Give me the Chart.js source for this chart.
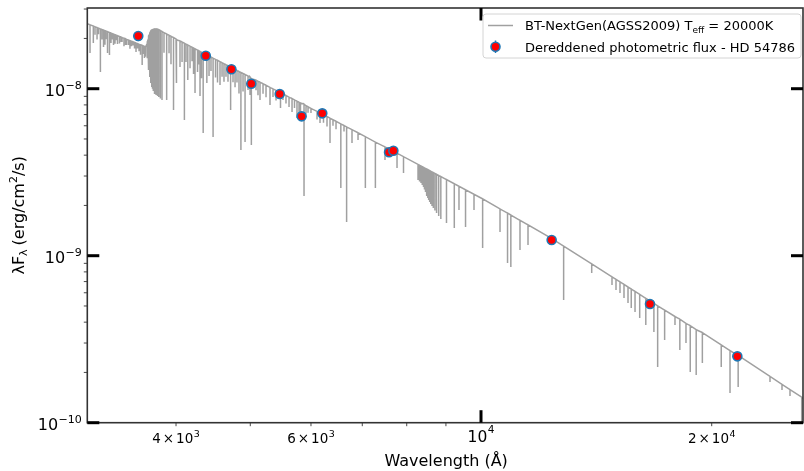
<!DOCTYPE html>
<html>
<head>
<meta charset="utf-8">
<script src="https://cdn.jsdelivr.net/npm/chart.js@4.4.1/dist/chart.umd.min.js"></script>
<style>
  html, body { margin: 0; padding: 0; background: #fff; }
  #wrap { width: 804px; height: 471px; }
</style>
</head>
<body>
<div id="wrap"><canvas id="sed" width="804" height="471"></canvas></div>
<script>
// axis limits
const X_MIN = 3064, X_MAX = 26312;
const Y_MIN = 1e-10, Y_MAX = 3.043e-8;

// model continuum nodes (Angstrom, erg/cm2/s)
const contWave = [3040, 3652, 4364, 6202, 7631, 10000, 12342, 16615, 21578, 26550];
const contFlux = [2.488e-8, 1.777e-8, 1.614e-8, 7.055e-9, 4.295e-9, 2.216e-9, 1.276e-9, 5.355e-10, 2.543e-10, 1.367e-10];

// strong absorption lines: wavelength, flux at the line edge, flux at the line bottom
const lineWave = [
  3089, 3120, 3187, 3217, 3256, 3275, 3315, 3355, 3401, 3448, 3515, 3613, 3638,
  3666, 3671, 3677, 3682, 3688, 3693, 3699, 3704, 3710, 3715, 3721, 3727, 3733, 3738, 3744, 3749, 3755, 3763, 3771, 3784, 3798, 3816, 3835,
  3889, 3970, 4009, 4102, 4144, 4235, 4299, 4340, 4388, 4471, 4565, 4713, 4861, 4922, 5016,
  5148, 5305, 5475, 5668, 5753, 5876, 6000, 6165, 6353, 6563, 6678, 6787, 6911, 7065, 7281,
  7494, 7770, 7923, 8276, 8314, 8351, 8382, 8413, 8438, 8464, 8483, 8502, 8523, 8545, 8571, 8598, 8631, 8665, 8707, 8750, 8806, 8863, 9015, 9229,
  9360, 9546, 9792, 10049, 10588, 10830, 10938, 11243, 11517, 12818, 13946, 14823, 15002,
  15183, 15367, 15553, 15705, 15885, 16109, 16407, 16811, 17002, 17362, 17911, 18174, 18513,
  18751, 19089, 19446, 20581, 21131, 21655, 23828, 24703, 25304, 26209
];
const lineTop = [
  2.413e-8, 2.371e-8, 2.278e-8, 2.243e-8, 2.194e-8, 2.170e-8, 2.123e-8, 2.077e-8, 2.026e-8, 1.971e-8, 1.909e-8, 1.817e-8, 1.792e-8,
  1.852e-8, 1.905e-8, 1.957e-8, 2.010e-8, 2.068e-8, 2.110e-8, 2.155e-8, 2.190e-8, 2.216e-8, 2.230e-8, 2.246e-8, 2.255e-8, 2.262e-8, 2.270e-8, 2.278e-8, 2.278e-8, 2.278e-8, 2.278e-8, 2.278e-8, 2.270e-8, 2.253e-8, 2.230e-8, 2.200e-8,
  2.125e-8, 2.023e-8, 1.963e-8, 1.870e-8, 1.827e-8, 1.733e-8, 1.672e-8, 1.634e-8, 1.594e-8, 1.523e-8, 1.451e-8, 1.343e-8, 1.252e-8, 1.216e-8, 1.146e-8,
  1.094e-8, 1.018e-8, 9.451e-9, 8.723e-9, 8.417e-9, 8.087e-9, 7.622e-9, 7.153e-9, 6.658e-9, 6.155e-9, 5.905e-9, 5.682e-9, 5.444e-9, 5.159e-9, 4.789e-9,
  4.482e-9, 4.109e-9, 3.916e-9, 3.521e-9, 3.482e-9, 3.444e-9, 3.413e-9, 3.383e-9, 3.357e-9, 3.332e-9, 3.316e-9, 3.300e-9, 3.280e-9, 3.260e-9, 3.233e-9, 3.206e-9, 3.175e-9, 3.145e-9, 3.108e-9, 3.072e-9, 3.024e-9, 2.976e-9, 2.855e-9, 2.695e-9,
  2.603e-9, 2.484e-9, 2.332e-9, 2.188e-9, 1.906e-9, 1.799e-9, 1.753e-9, 1.629e-9, 1.529e-9, 1.141e-9, 8.931e-10, 7.475e-10, 7.222e-10,
  6.968e-10, 6.732e-10, 6.495e-10, 6.318e-10, 6.113e-10, 5.865e-10, 5.558e-10, 5.181e-10, 5.012e-10, 4.723e-10, 4.324e-10, 4.172e-10, 3.932e-10,
  3.815e-10, 3.605e-10, 3.464e-10, 2.927e-10, 2.699e-10, 2.529e-10, 1.891e-10, 1.698e-10, 1.578e-10, 1.421e-10
];
const lineBottom = [
  1.636e-8, 1.878e-8, 1.259e-8, 1.777e-8, 1.636e-8, 1.592e-8, 1.827e-8, 1.852e-8, 1.904e-8, 1.827e-8, 1.814e-8, 1.387e-8, 1.527e-8,
  1.592e-8, 1.520e-8, 1.445e-8, 1.370e-8, 1.294e-8, 1.230e-8, 1.175e-8, 1.130e-8, 1.082e-8, 1.050e-8, 1.024e-8, 1.000e-8, 9.82e-9, 9.68e-9, 9.54e-9, 9.42e-9, 9.30e-9, 9.23e-9, 9.17e-9, 9.05e-9, 8.92e-9, 8.75e-9, 8.56e-9,
  8.557e-9, 7.455e-9, 1.082e-8, 6.495e-9, 1.127e-8, 9.425e-9, 9.043e-9, 5.429e-9, 1.082e-8, 5.138e-9, 1.052e-8, 7.455e-9, 4.295e-9, 4.795e-9, 4.601e-9,
  8.557e-9, 7.987e-9, 7.664e-9, 7.253e-9, 6.676e-9, 2.278e-9, 7.153e-9, 6.232e-9, 4.730e-9, 2.543e-9, 1.591e-9, 4.730e-9, 4.930e-9, 2.543e-9, 2.543e-9,
  3.741e-9, 3.351e-9, 3.128e-9, 2.840e-9, 2.780e-9, 2.725e-9, 2.650e-9, 2.579e-9, 2.490e-9, 2.407e-9, 2.340e-9, 2.278e-9, 2.215e-9, 2.155e-9, 2.095e-9, 2.040e-9, 1.985e-9, 1.930e-9, 1.865e-9, 1.802e-9, 1.730e-9, 1.659e-9, 1.570e-9, 1.465e-9,
  1.878e-9, 1.485e-9, 1.878e-9, 1.112e-9, 1.386e-9, 9.042e-10, 8.557e-10, 1.082e-9, 1.159e-9, 5.429e-10, 7.878e-10, 6.676e-10, 6.232e-10,
  5.979e-10, 5.581e-10, 5.209e-10, 4.862e-10, 4.601e-10, 4.236e-10, 3.846e-10, 3.492e-10, 2.155e-10, 3.128e-10, 3.846e-10, 2.725e-10, 3.001e-10,
  2.012e-10, 1.930e-10, 2.278e-10, 2.155e-10, 1.506e-10, 1.636e-10, 1.753e-10, 1.570e-10, 1.445e-10, 9.5e-11
];

// weak metal / helium lines forming the dense forest in the blue
const weakWave = [
  3136, 3155, 3169, 3202, 3231, 3241, 3290, 3300, 3330, 3340, 3375, 3391, 3421, 3437, 3468, 3483, 3499, 3531, 3547, 3563, 3579, 3595, 3625, 3647,
  3858, 3917, 3940, 4000, 4048, 4073, 4122, 4172, 4197, 4216, 4267, 4280, 4318, 4417, 4443, 4504, 4531, 4593, 4620, 4648, 4676,
  4747, 4776, 4804, 4833, 4892, 4966, 4996, 5087, 5117, 5195, 5242, 5353, 5402, 5516, 5566, 5617, 5710, 5788, 5814, 5911, 5947,
  6110, 6230, 6296, 6410, 6469, 6626
];
const weakTop = [
  2.348e-8, 2.323e-8, 2.304e-8, 2.261e-8, 2.224e-8, 2.211e-8, 2.152e-8, 2.140e-8, 2.105e-8, 2.094e-8, 2.054e-8, 2.037e-8, 2.004e-8, 1.988e-8, 1.956e-8, 1.939e-8, 1.924e-8, 1.892e-8, 1.877e-8, 1.862e-8, 1.846e-8, 1.831e-8, 1.804e-8, 1.784e-8,
  2.166e-8, 2.090e-8, 2.060e-8, 1.987e-8, 1.931e-8, 1.903e-8, 1.849e-8, 1.797e-8, 1.772e-8, 1.753e-8, 1.703e-8, 1.691e-8, 1.655e-8, 1.569e-8, 1.547e-8, 1.498e-8, 1.478e-8, 1.431e-8, 1.411e-8, 1.392e-8, 1.372e-8,
  1.324e-8, 1.306e-8, 1.287e-8, 1.269e-8, 1.234e-8, 1.191e-8, 1.174e-8, 1.125e-8, 1.109e-8, 1.071e-8, 1.048e-8, 9.974e-9, 9.764e-9, 9.290e-9, 9.096e-9, 8.906e-9, 8.567e-9, 8.299e-9, 8.212e-9, 7.900e-9, 7.789e-9,
  7.310e-9, 6.980e-9, 6.806e-9, 6.518e-9, 6.380e-9, 6.022e-9
];
const weakBottom = [
  2.103e-8, 1.969e-8, 2.121e-8, 1.969e-8, 1.833e-8, 1.981e-8, 1.875e-8, 1.970e-8, 1.860e-8, 1.954e-8, 1.865e-8, 1.902e-8, 1.795e-8, 1.830e-8, 1.825e-8, 1.737e-8, 1.796e-8, 1.742e-8, 1.658e-8, 1.738e-8, 1.676e-8, 1.595e-8, 1.615e-8, 1.554e-8,
  1.644e-8, 1.630e-8, 1.400e-8, 1.467e-8, 1.349e-8, 1.445e-8, 1.443e-8, 1.327e-8, 1.460e-8, 1.225e-8, 1.257e-8, 1.394e-8, 1.156e-8, 1.191e-8, 1.275e-8, 1.169e-8, 1.091e-8, 1.180e-8, 1.101e-8, 1.179e-8, 1.100e-8,
  1.092e-8, 1.019e-8, 1.091e-8, 9.371e-9, 9.625e-9, 9.817e-9, 9.159e-9, 9.802e-9, 9.145e-9, 9.327e-9, 8.883e-9, 8.932e-9, 8.507e-9, 8.553e-9, 8.146e-9, 7.759e-9, 7.672e-9, 7.034e-9, 6.770e-9, 7.075e-9, 7.171e-9,
  6.546e-9, 6.251e-9, 5.929e-9, 6.001e-9, 5.713e-9, 5.544e-9
];

// dereddened photometry
const photWave = [3571, 4374, 4724, 5015, 5462, 5834, 6207, 7586, 7685, 12365, 16615, 21600];
const photFlux = [2.067e-8, 1.576e-8, 1.307e-8, 1.071e-8, 9.30e-9, 6.83e-9, 7.12e-9, 4.16e-9, 4.25e-9, 1.242e-9, 5.14e-10, 2.497e-10];
const photErr  = [1.4e-9, 2.5e-10, 2e-10, 1.6e-10, 1.4e-10, 1e-10, 1e-10, 6e-11, 6e-11, 1.8e-11, 8e-12, 4e-12];

// ticks
const xMinorTicks = [4000, 5000, 6000, 7000, 8000, 9000, 20000];
const xMajorTicks = [10000];
const xLabelVals = [4000, 6000, 10000, 20000];
const xLabelMant = ['4', '6', '', '2'];
const xLabelExp  = ['3', '3', '4', '4'];
const yMajorTicks = [1e-10, 1e-9, 1e-8];
const yMinorTicks = [2e-10, 3e-10, 4e-10, 5e-10, 6e-10, 7e-10, 8e-10, 9e-10,
                     2e-9, 3e-9, 4e-9, 5e-9, 6e-9, 7e-9, 8e-9, 9e-9, 2e-8, 3e-8];
const yLabelExp = ['\u221210', '\u22129', '\u22128'];

const MODEL_COLOR = '#a0a0a0';
const PHOT_FILL = '#ff0000';
const PHOT_EDGE = '#1f77b4';
const FONT = '"DejaVu Sans", sans-serif';

// model spectrum: continuum nodes plus a down-and-up spike for every line
const groups = [];
contWave.forEach(function(w, i) { groups.push({ w: w, pts: [{ x: w, y: contFlux[i] }] }); });
function addLines(waves, tops, bottoms) {
  waves.forEach(function(w, i) {
    groups.push({ w: w, pts: [{ x: w, y: tops[i] }, { x: w, y: bottoms[i] }, { x: w, y: tops[i] }] });
  });
}
addLines(lineWave, lineTop, lineBottom);
addLines(weakWave, weakTop, weakBottom);
groups.sort(function(a, b) { return a.w - b.w; });
const spectrum = [];
groups.forEach(function(g) { g.pts.forEach(function(p) { spectrum.push(p); }); });

const photPoints = photWave.map(function(w, i) { return { x: w, y: photFlux[i] }; });

// draw a run of text pieces (base, superscript, subscript)
function pieceWidth(ctx, segs) {
  let w = 0;
  segs.forEach(function(s) {
    ctx.font = s.size + 'px ' + FONT;
    w += ctx.measureText(s.t).width + (s.gap || 0);
  });
  return w;
}
function drawPieces(ctx, segs, x, y) {
  segs.forEach(function(s) {
    ctx.font = s.size + 'px ' + FONT;
    ctx.fillText(s.t, x, y + (s.dy || 0));
    x += ctx.measureText(s.t).width + (s.gap || 0);
  });
}

const decor = {
  id: 'decor',
  beforeDatasetDraw(chart, args) {
    if (args.index !== 0) return;
    const ctx = chart.ctx, xs = chart.scales.x, ys = chart.scales.y;
    ctx.save();
    ctx.strokeStyle = PHOT_EDGE;
    ctx.lineWidth = 1.5;
    photWave.forEach(function(w, i) {
      const px = xs.getPixelForValue(w);
      ctx.beginPath();
      ctx.moveTo(px, ys.getPixelForValue(photFlux[i] + photErr[i]));
      ctx.lineTo(px, ys.getPixelForValue(photFlux[i] - photErr[i]));
      ctx.stroke();
    });
    ctx.restore();
  },
  afterDraw(chart) {
    const ctx = chart.ctx, a = chart.chartArea, xs = chart.scales.x, ys = chart.scales.y;
    ctx.save();

    // frame
    ctx.strokeStyle = '#333';
    ctx.lineWidth = 1.6;
    ctx.strokeRect(a.left, a.top, a.right - a.left, a.bottom - a.top);

    // minor ticks, outward
    ctx.lineWidth = 0.9;
    ctx.strokeStyle = '#333';
    yMinorTicks.forEach(function(v) {
      const py = ys.getPixelForValue(v);
      ctx.beginPath(); ctx.moveTo(a.left, py); ctx.lineTo(a.left - 3.5, py); ctx.stroke();
    });
    xMinorTicks.forEach(function(v) {
      const px = xs.getPixelForValue(v);
      ctx.beginPath(); ctx.moveTo(px, a.bottom); ctx.lineTo(px, a.bottom + 3.5); ctx.stroke();
    });

    // major ticks, inward and heavy
    ctx.lineWidth = 3;
    ctx.strokeStyle = '#000';
    yMajorTicks.forEach(function(v) {
      const py = ys.getPixelForValue(v);
      ctx.beginPath(); ctx.moveTo(a.left, py); ctx.lineTo(a.left + 12, py); ctx.stroke();
      ctx.beginPath(); ctx.moveTo(a.right, py); ctx.lineTo(a.right - 12, py); ctx.stroke();
    });
    xMajorTicks.forEach(function(v) {
      const px = xs.getPixelForValue(v);
      ctx.beginPath(); ctx.moveTo(px, a.bottom); ctx.lineTo(px, a.bottom - 12.5); ctx.stroke();
      ctx.beginPath(); ctx.moveTo(px, a.top); ctx.lineTo(px, a.top + 12.5); ctx.stroke();
    });

    // tick labels
    ctx.fillStyle = '#000';
    ctx.textBaseline = 'alphabetic';
    ctx.textAlign = 'left';
    xLabelVals.forEach(function(v, i) {
      const px = xs.getPixelForValue(v);
      let segs, base;
      if (xLabelMant[i]) {
        segs = [
          { t: xLabelMant[i], size: 13.5, gap: 2 },
          { t: '\u00d7', size: 13.5, gap: 2 },
          { t: '10', size: 13.5, gap: 0.5 },
          { t: xLabelExp[i], size: 9.5, dy: -6 }
        ];
        base = a.bottom + 20.6;
      } else {
        segs = [
          { t: '10', size: 15.5, gap: 0.5 },
          { t: xLabelExp[i], size: 10.5, dy: -8.4 }
        ];
        base = a.bottom + 19;
      }
      drawPieces(ctx, segs, px - pieceWidth(ctx, segs) / 2, base);
    });
    yMajorTicks.forEach(function(v, i) {
      const py = ys.getPixelForValue(v);
      const segs = [
        { t: '10', size: 16, gap: 0.5 },
        { t: yLabelExp[i], size: 11, dy: -6.5 }
      ];
      drawPieces(ctx, segs, a.left - 5.5 - pieceWidth(ctx, segs), py + 7);
    });

    // axis titles
    ctx.font = '16px ' + FONT;
    ctx.textAlign = 'center';
    ctx.fillText('Wavelength (\u00c5)', (a.left + a.right) / 2 + 1, 466);

    const ySegs = [
      { t: '\u03bbF', size: 16 },
      { t: '\u03bb', size: 11, dy: 3.5, gap: 4 },
      { t: '(erg/cm', size: 16 },
      { t: '2', size: 11, dy: -6.5 },
      { t: '/s)', size: 16 }
    ];
    ctx.textAlign = 'left';
    ctx.translate(23.5, (a.top + a.bottom) / 2);
    ctx.rotate(-Math.PI / 2);
    drawPieces(ctx, ySegs, -pieceWidth(ctx, ySegs) / 2, 0);
    ctx.setTransform(1, 0, 0, 1, 0, 0);

    // legend
    const bx = 483, by = 14, bw = 318, bh = 44, r = 3;
    ctx.beginPath();
    ctx.moveTo(bx + r, by);
    ctx.lineTo(bx + bw - r, by); ctx.quadraticCurveTo(bx + bw, by, bx + bw, by + r);
    ctx.lineTo(bx + bw, by + bh - r); ctx.quadraticCurveTo(bx + bw, by + bh, bx + bw - r, by + bh);
    ctx.lineTo(bx + r, by + bh); ctx.quadraticCurveTo(bx, by + bh, bx, by + bh - r);
    ctx.lineTo(bx, by + r); ctx.quadraticCurveTo(bx, by, bx + r, by);
    ctx.closePath();
    ctx.fillStyle = 'rgba(255,255,255,0.85)';
    ctx.fill();
    ctx.strokeStyle = '#d4d4d4';
    ctx.lineWidth = 1;
    ctx.stroke();

    ctx.strokeStyle = MODEL_COLOR;
    ctx.lineWidth = 1.5;
    ctx.beginPath(); ctx.moveTo(488, 25.5); ctx.lineTo(513, 25.5); ctx.stroke();

    ctx.strokeStyle = PHOT_EDGE;
    ctx.beginPath(); ctx.moveTo(495.5, 40.5); ctx.lineTo(495.5, 53); ctx.stroke();
    ctx.beginPath(); ctx.arc(495.5, 46.7, 4.5, 0, Math.PI * 2);
    ctx.fillStyle = PHOT_FILL; ctx.fill();
    ctx.lineWidth = 1.6; ctx.stroke();

    ctx.fillStyle = '#000';
    drawPieces(ctx, [
      { t: 'BT-NextGen(AGSS2009) T', size: 13 },
      { t: 'eff', size: 9, dy: 2.5 },
      { t: ' = 20000K', size: 13 }
    ], 525, 30.3);
    drawPieces(ctx, [{ t: 'Dereddened photometric flux - HD 54786', size: 13 }], 525, 51.5);

    ctx.restore();
  }
};

new Chart(document.getElementById('sed').getContext('2d'), {
  type: 'scatter',
  data: {
    datasets: [
      {
        label: 'Dereddened photometric flux - HD 54786',
        data: photPoints,
        showLine: false,
        pointRadius: 4.5,
        pointBackgroundColor: PHOT_FILL,
        pointBorderColor: PHOT_EDGE,
        pointBorderWidth: 1.6,
        order: 0
      },
      {
        label: 'BT-NextGen(AGSS2009) Teff = 20000K',
        data: spectrum,
        showLine: true,
        borderColor: MODEL_COLOR,
        borderWidth: 1.5,
        pointRadius: 0,
        tension: 0,
        order: 1
      }
    ]
  },
  options: {
    responsive: false,
    animation: false,
    devicePixelRatio: 1,
    layout: { autoPadding: false, padding: { left: 0, right: 1, top: 8, bottom: 0 } },
    plugins: { legend: { display: false }, tooltip: { enabled: false } },
    scales: {
      x: {
        type: 'logarithmic', min: X_MIN, max: X_MAX,
        ticks: { display: false }, grid: { display: false }, border: { display: false },
        afterFit: function(s) { s.height = 48.3; s.paddingLeft = 0; s.paddingRight = 0; }
      },
      y: {
        type: 'logarithmic', min: Y_MIN, max: Y_MAX,
        ticks: { display: false }, grid: { display: false }, border: { display: false },
        afterFit: function(s) { s.width = 87.3; s.paddingTop = 0; s.paddingBottom = 0; }
      }
    }
  },
  plugins: [decor]
});
</script>
</body>
</html>
